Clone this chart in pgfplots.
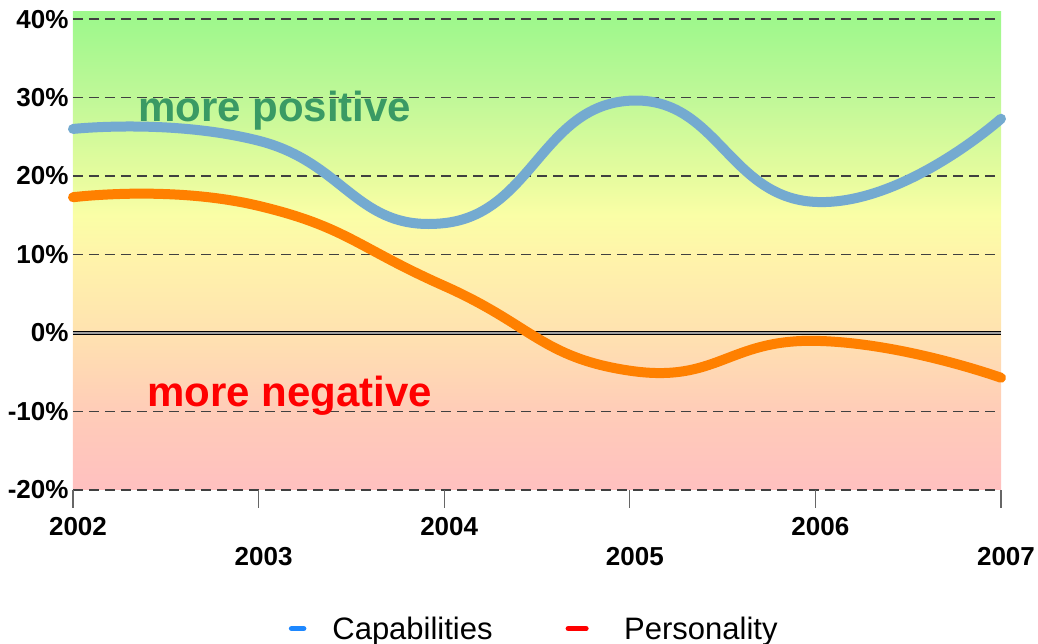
\documentclass[border=0pt]{standalone}
\usepackage{fontspec}
\setmainfont{Liberation Sans}
\usepackage{pgfplots}
\pgfplotsset{compat=1.18}
\definecolor{cpink}{HTML}{FFC0C0}
\definecolor{cm10}{HTML}{FFCCB8}
\definecolor{czero}{HTML}{FFE2B0}
\definecolor{cten}{HTML}{FFF4AA}
\definecolor{cfift}{HTML}{FAFEA6}
\definecolor{ctwenty}{HTML}{E6FC9E}
\definecolor{cthirty}{HTML}{C0F898}
\definecolor{cforty}{HTML}{9EF88C}
\definecolor{capblue}{HTML}{74AAD0}
\definecolor{perorange}{HTML}{FF8000}
\definecolor{posgreen}{HTML}{3A9A64}
\definecolor{legblue}{HTML}{1E88FF}
\pgfdeclareverticalshading{bgshade}{100bp}{color(0bp)=(cpink); color(25bp)=(cpink); color(33.2bp)=(cm10); color(41.4bp)=(czero); color(49.6bp)=(cten); color(53.7bp)=(cfift); color(57.8bp)=(ctwenty); color(66.0bp)=(cthirty); color(74.3bp)=(cforty); color(75bp)=(cforty); color(100bp)=(cforty)}
\begin{document}
\begin{tikzpicture}
\path[use as bounding box] (-73pt,-154pt) rectangle (965pt,490pt);
\begin{axis}[
  at={(0pt,0pt)}, anchor=south west,
  scale only axis, width=928pt, height=478pt,
  xmin=2002, xmax=2007, ymin=-20, ymax=40.9,
  clip=false,
  axis background/.style={shade, shading=bgshade},
  axis line style={draw=none},
  ytick={-20,-10,0,10,20,30,40},
  yticklabels={-20\%,-10\%,0\%,10\%,20\%,30\%,40\%},
  xtick={2002,2004,2006},
  xticklabels={2002,2004,2006},
  extra x ticks={2003,2005,2007},
  extra x tick labels={2003,2005,2007},
  extra x tick style={xticklabel style={yshift=-30pt}},
  xtick pos=bottom, xtick align=outside,
  major tick length=18pt,
  x tick style={draw=gray!80!black, line width=1.2pt},
  y tick style={draw=none},
  ymajorgrids,
  major grid style={dashed, dash pattern=on 10pt off 6pt, line width=1.3pt, black!75},
  ticklabel style={font=\fontsize{26}{30}\selectfont\bfseries},
  yticklabel style={xshift=-1pt},
  xticklabel style={yshift=-6pt, xshift=5pt},
  legend style={at={(rel axis cs:0.497,-0.29)}, anchor=center, draw=none, fill=none,
    font=\fontsize{31}{36}\selectfont, legend columns=2,
    /tikz/every even column/.append style={column sep=71pt},
    /tikz/every odd column/.append style={column sep=24pt}},
]
\addplot[forget plot, draw=black, double=gray!75, line width=1pt, double distance=2pt] coordinates {(2002,0) (2007,0)};
\addplot[forget plot, capblue, line width=10pt, line cap=round, smooth, tension=0.85] coordinates {
(2002,26.0) (2003,24.5) (2004,14.0) (2005,29.6) (2006,16.7) (2007,27.3)};
\addplot[forget plot, perorange, line width=10pt, line cap=round, smooth, tension=0.85] coordinates {
(2002,17.3) (2003,16.2) (2004,6.0) (2005,-4.8) (2006,-1.0) (2007,-5.7)};
\node[anchor=base west, inner sep=0pt, text=posgreen, font=\fontsize{42}{48}\selectfont\bfseries] at (axis cs:2002.35,27.0) {more positive};
\node[anchor=base west, inner sep=0pt, text=red, font=\fontsize{42}{48}\selectfont\bfseries] at (axis cs:2002.40,-9.4) {more negative};
\addlegendimage{legend image code/.code={\draw[legblue, line width=5.5pt, line cap=round] (0pt,0pt) -- (12pt,0pt);}}
\addlegendentry{Capabilities}
\addlegendimage{legend image code/.code={\draw[opacity=0, line width=0.1pt] (0pt,0pt) -- (30pt,0pt);\draw[red, line width=5pt, line cap=round] (0pt,0pt) -- (18pt,0pt);}}
\addlegendentry{Personality}
\end{axis}
\end{tikzpicture}
\end{document}
